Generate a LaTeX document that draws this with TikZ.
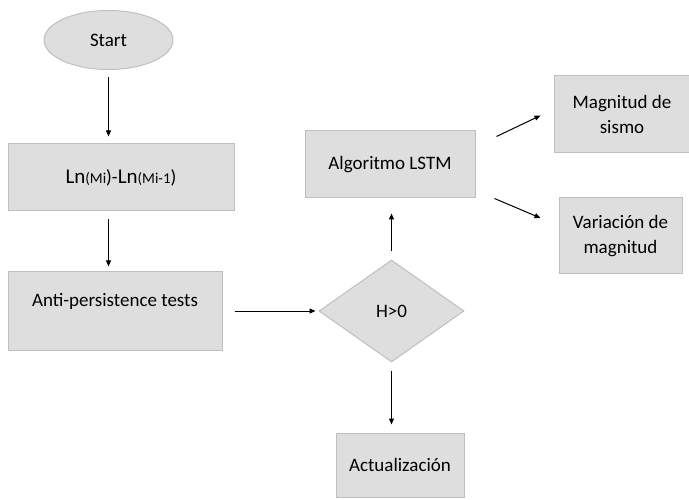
\documentclass[tikz,border=0pt]{standalone}
\usepackage{fontspec}
\setmainfont{Carlito}
\usetikzlibrary{arrows.meta,shapes.geometric}

\definecolor{boxfill}{HTML}{DEDEDE}
\definecolor{boxline}{HTML}{BFBFBF}

\tikzset{
    box/.style={rectangle, draw=boxline, fill=boxfill, line width=1pt, inner sep=0pt, align=center},
    flow/.style={-{Triangle[length=6pt,width=5pt]}, line width=1pt}
}

\begin{document}
\begin{tikzpicture}[x=1pt, y=-1pt, font=\fontsize{19}{25}\selectfont]
        \useasboundingbox (0,0) rectangle (689,500);

        \node[ellipse, draw=boxline, fill=boxfill, line width=1pt, minimum width=129pt, minimum height=59pt] (start) at (108.5, 40) {Start};
        \node[box, minimum width=226pt, minimum height=67pt] (ln) at (121, 177.5)
            {{\fontsize{21}{25}\selectfont Ln}{\fontsize{15}{25}\selectfont(Mi}){-}{\fontsize{21}{25}\selectfont Ln}{\fontsize{15}{25}\selectfont(Mi-1})};
        \node[box, minimum width=214pt, minimum height=78pt] (anti) at (115, 311) {Anti-persistence tests\\[-2pt]~};
        \node[diamond, draw=boxline, fill=boxfill, line width=1pt, inner sep=0pt, aspect=1.42, minimum width=145pt, minimum height=102pt] (cond) at (391.5, 311) {H>0};
        \node[box, minimum width=170pt, minimum height=67pt] (lstm) at (390, 164.5) {Algoritmo LSTM};
        \node[box, minimum width=128pt, minimum height=64pt] (act) at (400, 465) {Actualización};
        \node[box, minimum width=136pt, minimum height=77pt] (mag) at (622, 114.5) {Magnitud de\\sismo};
        \node[box, minimum width=123pt, minimum height=76pt] (var) at (620.5, 236) {Variación de\\magnitud};

        \draw[flow, shorten <=7pt, shorten >=7pt] (start.south) -- (start.south |- ln.north);
        \draw[flow, shorten <=8pt, shorten >=5pt] (start.south |- ln.south) -- (start.south |- anti.north);
        \draw[flow, shorten <=12pt, shorten >=3pt] (anti.east) -- (cond.west);
        \draw[flow, shorten <=8pt, shorten >=15pt] (cond.north) -- (cond.north |- lstm.south);
        \draw[flow, shorten <=8pt, shorten >=8pt] (cond.south) -- (cond.south |- act.north);
        \draw[flow] ([xshift=21pt, yshift=-6pt]lstm.north east) -- ([xshift=-13pt, yshift=-1pt]mag.west);
        \draw[flow] ([xshift=19pt]lstm.south east) -- ([xshift=-18pt, yshift=18pt]var.west);
    \end{tikzpicture}
\end{document}
